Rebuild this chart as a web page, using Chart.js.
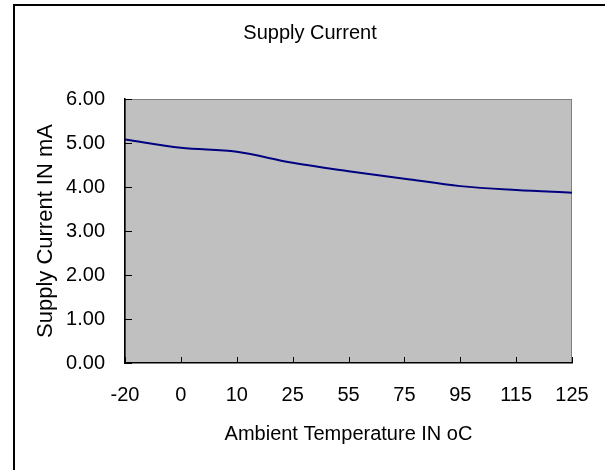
<!DOCTYPE html>
<html>
<head>
<meta charset="utf-8">
<script src="https://cdn.jsdelivr.net/npm/chart.js@4.4.1/dist/chart.umd.min.js"></script>
<style>
  body { margin: 0; background: #fff; }
  canvas { display: block; }
</style>
</head>
<body>
<canvas id="supplyChart" width="605" height="470"></canvas>
<script>
// Values
const temperatures = ['-20', '0', '10', '25', '55', '75', '95', '115', '125'];
const supplyCurrent = [5.08, 4.89, 4.80, 4.55, 4.36, 4.19, 4.02, 3.93, 3.87];
const yTicks = [0, 1, 2, 3, 4, 5, 6];

const FONT = "'Liberation Sans', Arial, sans-serif";

// Outer frame, grey plot area and the title text
const excelLook = {
  id: 'excelLook',
  beforeDraw(chart) {
    const { ctx, chartArea: a } = chart;
    ctx.save();
    ctx.fillStyle = '#000';
    ctx.fillRect(13, 4, 592, 2);
    ctx.fillRect(13, 4, 2, 466);
    ctx.fillStyle = '#c0c0c0';
    ctx.fillRect(a.left, a.top, a.right - a.left, a.bottom - a.top);
    ctx.strokeStyle = '#808080';
    ctx.lineWidth = 1;
    ctx.strokeRect(a.left + 0.5, a.top + 0.5, a.right - a.left - 1, a.bottom - a.top - 1);
    ctx.fillStyle = '#000';
    ctx.font = '20px ' + FONT;
    ctx.textAlign = 'center';
    ctx.textBaseline = 'middle';
    ctx.fillText('Supply Current', 310, 33);
    ctx.restore();
  },
  // tick marks point inwards, like Excel
  beforeDatasetsDraw(chart) {
    const { ctx, scales: { x, y } } = chart;
    ctx.save();
    ctx.strokeStyle = '#000';
    ctx.lineWidth = 1;
    ctx.beginPath();
    y.ticks.forEach((t, i) => {
      const py = Math.round(y.getPixelForTick(i)) + 0.5;
      ctx.moveTo(x.left, py);
      ctx.lineTo(x.left + 7, py);
    });
    x.ticks.forEach((t, i) => {
      const px = Math.round(x.getPixelForTick(i)) + 0.5;
      ctx.moveTo(px, y.bottom);
      ctx.lineTo(px, y.bottom - 6);
    });
    ctx.stroke();
    ctx.restore();
  }
};

new Chart(document.getElementById('supplyChart'), {
  type: 'line',
  data: {
    labels: temperatures,
    datasets: [{
      data: supplyCurrent,
      borderColor: '#000080',
      borderWidth: 2,
      pointRadius: 0,
      tension: 0.35,
      fill: false
    }]
  },
  options: {
    responsive: false,
    animation: false,
    layout: { padding: { top: 99, right: 33, left: 0, bottom: 0 } },
    plugins: {
      legend: { display: false },
      tooltip: { enabled: false }
    },
    scales: {
      x: {
        offset: false,
        grid: { display: false, drawTicks: false },
        border: { display: true, color: '#000', width: 1.5 },
        ticks: { color: '#000', padding: 20, maxRotation: 0, autoSkip: false, font: { family: FONT, size: 20 } },
        title: {
          display: true,
          text: 'Ambient Temperature IN oC',
          color: '#000',
          font: { family: FONT, size: 20 },
          padding: { top: 0, bottom: 24 }
        },
        afterFit(scale) {
          scale.height = 107;
          scale.paddingLeft = 0;
          scale.paddingRight = 0;
        }
      },
      y: {
        min: 0,
        max: 6,
        afterBuildTicks(scale) {
          scale.ticks = yTicks.map(v => ({ value: v }));
        },
        grid: { display: false, drawTicks: false },
        border: { display: true, color: '#000', width: 1.5 },
        ticks: {
          color: '#000',
          padding: 20,
          font: { family: FONT, size: 20 },
          callback: v => v.toFixed(2)
        },
        title: {
          display: true,
          text: 'Supply Current IN mA',
          color: '#000',
          font: { family: FONT, size: 22 },
          padding: { top: 33, bottom: 0 }
        },
        afterFit(scale) {
          scale.width = 125;
          scale.paddingTop = 0;
          scale.paddingBottom = 0;
        }
      }
    }
  },
  plugins: [excelLook]
});
</script>
</body>
</html>
